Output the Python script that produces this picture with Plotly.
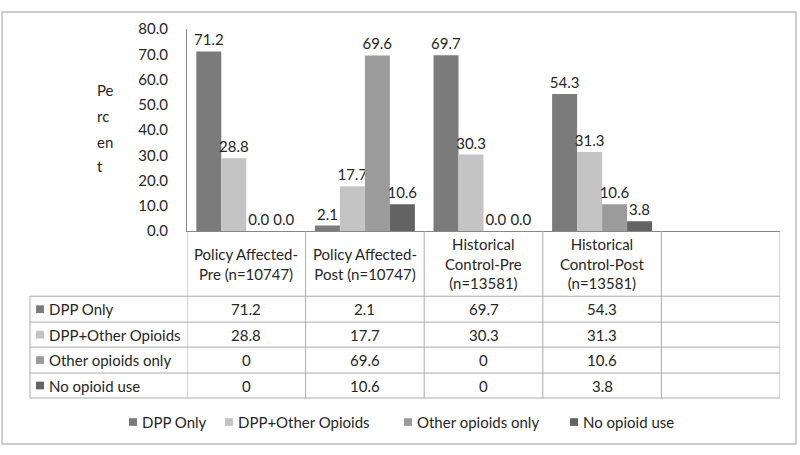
import plotly.graph_objects as go

# data
groups = [
    "Policy Affected-<br>Pre (n=10747)",
    "Policy Affected-<br>Post (n=10747)",
    "Historical<br>Control-Pre<br>(n=13581)",
    "Historical<br>Control-Post<br>(n=13581)",
]
series_names = ["DPP Only", "DPP+Other Opioids", "Other opioids only", "No opioid use"]
dpp_only = [71.2, 2.1, 69.7, 54.3]
dpp_other = [28.8, 17.7, 30.3, 31.3]
other_only = [0, 69.6, 0, 10.6]
no_use = [0, 10.6, 0, 3.8]
table_text = [
    ["71.2", "2.1", "69.7", "54.3"],
    ["28.8", "17.7", "30.3", "31.3"],
    ["0", "69.6", "0", "10.6"],
    ["0", "10.6", "0", "3.8"],
]
y_ticks = [0, 10, 20, 30, 40, 50, 60, 70, 80]

colors = ["#7b7b7b", "#c4c4c4", "#9b9b9b", "#636363"]
FONT = "Lato"
FS = 15
TXT = "#262626"
GRID = "#ababab"
W, H = 800, 455


def py(pix):
    # pixel row -> paper y
    return 1 - pix / H


def px_(pix):
    return pix / W


x_dom = [px_(187), px_(780)]
y_dom = [py(230), py(20)]

fig = go.Figure()
series = [dpp_only, dpp_other, other_only, no_use]
for name, vals, col in zip(series_names, series, colors):
    fig.add_trace(go.Bar(
        x=list(range(len(vals))), y=vals, name=name,
        marker=dict(color=col, line=dict(width=0)),
        texttemplate="%{y:.1f}", textposition="outside",
        constraintext="none", cliponaxis=False,
        textfont=dict(family=FONT, size=FS, color=TXT),
        showlegend=False,
    ))

shapes = []
annotations = []


def label(x, y, text, xref="paper", xanchor="center"):
    annotations.append(dict(x=x, y=y, xref=xref, yref="paper", text=text,
                            showarrow=False, xanchor=xanchor, yanchor="middle",
                            font=dict(family=FONT, size=FS, color=TXT)))


# table vertical lines (category boundaries)
for i in range(len(groups) + 2):
    shapes.append(dict(type="line", xref="x", yref="paper",
                       x0=i - 0.5, x1=i - 0.5, y0=py(230), y1=py(404),
                       line=dict(color=GRID, width=1)))
# left edge of the row label column
shapes.append(dict(type="line", xref="paper", yref="paper",
                   x0=px_(30), x1=px_(30), y0=py(298), y1=py(404),
                   line=dict(color=GRID, width=1)))
row_lines = [298, 325, 351, 378, 404]
for r in row_lines:
    shapes.append(dict(type="line", xref="paper", yref="paper",
                       x0=px_(30), x1=x_dom[1], y0=py(r), y1=py(r),
                       line=dict(color=GRID, width=1)))

# header labels
for i, g in enumerate(groups):
    label(i, py(264), g, xref="x")

# table rows
for k, name in enumerate(series_names):
    top, bot = row_lines[k], row_lines[k + 1]
    mid = (top + bot) / 2
    shapes.append(dict(type="rect", xref="paper", yref="paper",
                       x0=px_(36), x1=px_(44), y0=py(mid - 4), y1=py(mid + 4),
                       fillcolor=colors[k], line=dict(width=0)))
    label(px_(47), py(mid), name, xanchor="left")
    for i, t in enumerate(table_text[k]):
        label(i, py(mid), t, xref="x")

# y axis title, broken over lines as in the original
for t, yy in zip(["Pe", "rc", "en", "t"], [83, 110, 137, 162]):
    label(px_(95), py(yy), t, xanchor="left")

# bottom legend
leg_x = [129, 225, 404, 570]
for k, name in enumerate(series_names):
    shapes.append(dict(type="rect", xref="paper", yref="paper",
                       x0=px_(leg_x[k]), x1=px_(leg_x[k] + 8),
                       y0=py(429 - 4), y1=py(429 + 4),
                       fillcolor=colors[k], line=dict(width=0)))
    label(px_(leg_x[k] + 11), py(429), name, xanchor="left")

# outer chart border
shapes.append(dict(type="rect", xref="paper", yref="paper",
                   x0=px_(2), x1=px_(796), y0=py(452), y1=py(2),
                   line=dict(color="#bfbfbf", width=1.5)))

fig.update_layout(
    width=W, height=H, autosize=False,
    margin=dict(l=0, r=0, t=0, b=0),
    paper_bgcolor="white", plot_bgcolor="white",
    barmode="group", bargap=0.157, bargroupgap=0,
    font=dict(family=FONT, size=FS, color=TXT),
    xaxis=dict(domain=x_dom, range=[-0.5, 4.5], showticklabels=False,
               showgrid=False, zeroline=False, showline=True,
               linecolor="#868686", linewidth=1, ticks=""),
    yaxis=dict(domain=y_dom, range=[0, 80], tickvals=y_ticks,
               tickformat=".1f", showgrid=False, zeroline=False,
               showline=True, linecolor="#868686", linewidth=1,
               ticks="", ticklabelstandoff=15,
               tickfont=dict(family=FONT, size=FS, color=TXT)),
    shapes=shapes, annotations=annotations,
)

# pin the graph to the page corner so the page is exactly the figure
pin = (
    "document.documentElement.style.cssText='margin:0;padding:0;overflow:hidden;height:455px';"
    "document.body.style.cssText='margin:0;padding:0;overflow:hidden;height:455px';"
    "var d=document.getElementById('{plot_id}');"
    "d.style.position='fixed';d.style.top='0';d.style.left='0';"
)
fig.write_html("out.html", config={"displayModeBar": False}, post_script=pin)
